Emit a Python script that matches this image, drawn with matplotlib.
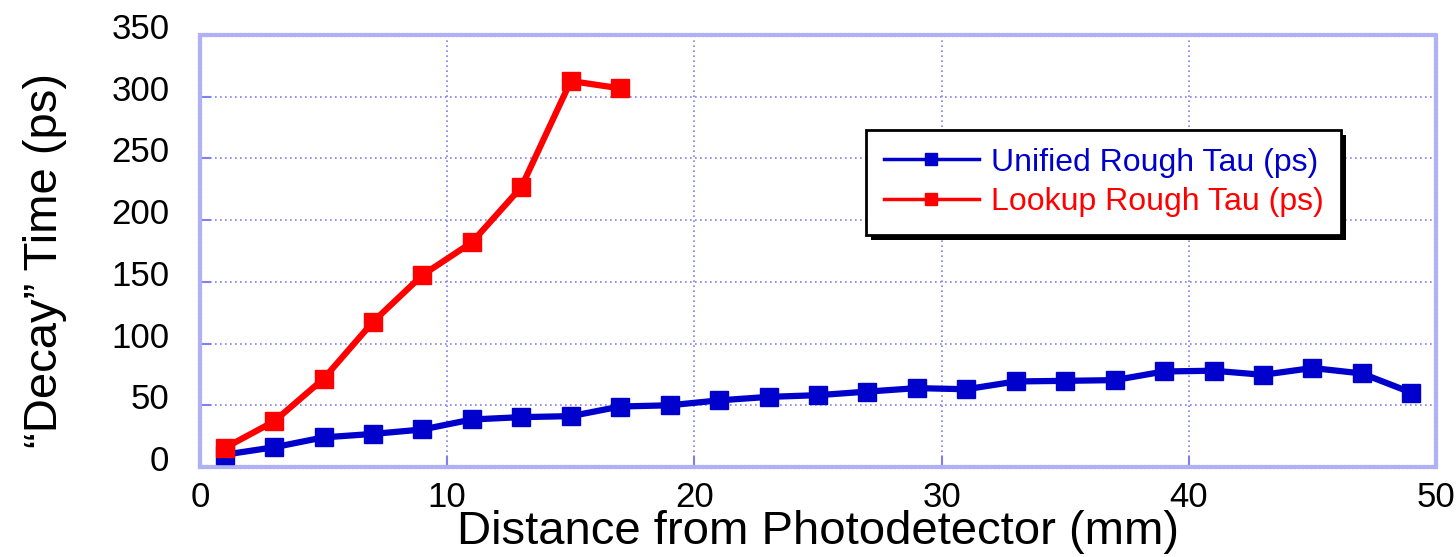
import matplotlib
matplotlib.use("Agg")
import matplotlib.pyplot as plt
from matplotlib.lines import Line2D
from matplotlib.patches import Rectangle
from matplotlib.transforms import ScaledTranslation

plt.rcParams['font.family'] = ['Liberation Sans', 'DejaVu Sans']

distance_unified = [1, 3, 5, 7, 9, 11, 13, 15, 17, 19, 21, 23, 25, 27, 29, 31, 33, 35, 37, 39, 41, 43, 45, 47, 49]
unified_tau = [10, 16, 24, 26.8, 30.4, 38.5, 40.4, 41.2, 49, 50, 54, 56.8, 58.2, 61.1, 63.9, 63, 69.3, 69.8, 70.4, 77.4, 78, 74.7, 80.2, 75.8, 60.3]
distance_lookup = [1, 3, 5, 7, 9, 11, 13, 15, 17]
lookup_tau = [15.4, 37, 71.5, 117.6, 155.5, 182, 226.8, 312.7, 306.8]
series_labels = ["Unified Rough Tau (ps)", "Lookup Rough Tau (ps)"]
xticks = [0, 10, 20, 30, 40, 50]
yticks = [0, 50, 100, 150, 200, 250, 300, 350]

BLUE = '#0000cc'
RED = '#ff0000'
GRID = '#7f7ff5'
FRAME = '#b0b0f5'

fig = plt.figure(figsize=(14.56, 5.57), dpi=100)
ax = fig.add_axes([200/1456, 1 - 467/557, 1236/1456, 432/557])

ax.plot(distance_unified, unified_tau, color=BLUE, lw=4.5, marker='s', ms=13, zorder=3)
ax.plot(distance_lookup, lookup_tau, color=RED, lw=4.5, marker='s', ms=13, zorder=4)

ax.set_xlim(0, 50)
ax.set_ylim(0, 350)
ax.set_xticks(xticks)
ax.set_yticks(yticks)
ax.grid(True, color=GRID, linestyle=(0, (1, 2)), lw=1.2)
for s in ax.spines.values():
    s.set_color(FRAME)
    s.set_linewidth(3)
    s.set_linestyle((0, (0.5, 0.5)))
ax.tick_params(direction='in', length=8, width=1.5, color=GRID, labelsize=25, pad=10)
ax.tick_params(axis='y', pad=22)
for lab in ax.get_yticklabels():
    lab.set_transform(lab.get_transform() + ScaledTranslation(0, 9/100, fig.dpi_scale_trans))

ax.set_xlabel("Distance from Photodetector (mm)", fontsize=34, labelpad=0)
ax.xaxis.set_label_coords(0.5, -0.1)
ax.set_ylabel("\u201cDecay\u201d Time (ps)", fontsize=34)
ax.yaxis.set_label_coords(-0.108, 0.479)

handles = [Line2D([], [], color=BLUE, lw=2.5, marker='s', ms=8),
           Line2D([], [], color=RED, lw=2.5, marker='s', ms=8)]
leg = ax.legend(handles, series_labels, loc='upper left',
                bbox_to_anchor=((866-200)/1236, (467-130)/432), borderaxespad=0,
                fontsize=23, fancybox=False, framealpha=1, edgecolor='black',
                handlelength=3.0, handletextpad=0.35, borderpad=0.55, labelspacing=0.3)
leg.get_frame().set_linewidth(2)
for t, c in zip(leg.get_texts(), [BLUE, RED]):
    t.set_color(c)
leg.set_zorder(10)

fig.canvas.draw()
bb = leg.get_window_extent()
shadow = Rectangle((bb.x0 + 5, bb.y0 - 5), bb.width, bb.height, transform=None,
                   facecolor='black', edgecolor='none', zorder=9)
ax.add_artist(shadow)

fig.savefig("out.png", dpi=100)
